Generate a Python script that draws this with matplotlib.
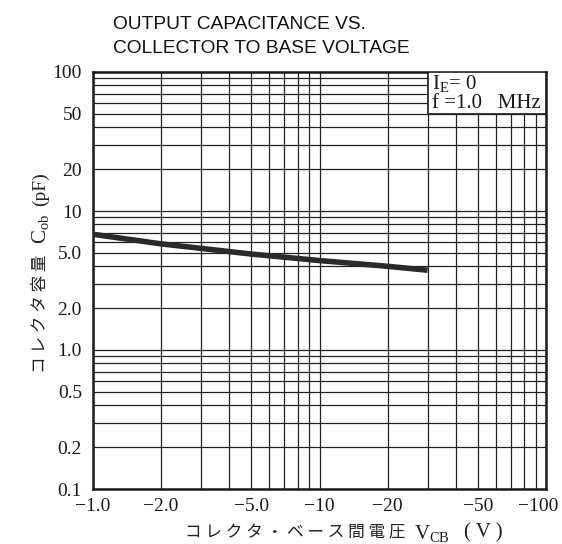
import numpy as np
import matplotlib
matplotlib.use("Agg")
import matplotlib.pyplot as plt
import matplotlib.transforms as mtransforms
from matplotlib.ticker import LogLocator, FixedLocator, FixedFormatter, NullFormatter
from matplotlib.patches import Rectangle

# data
v_cb = [-1.0, -2.0, -5.0, -10.0, -20.0, -30.0]   # V
c_ob = [6.8, 5.8, 4.9, 4.4, 4.0, 3.75]           # pF

x_ticks = [1, 2, 5, 10, 20, 50, 100]
x_labels = ["\u22121.0", "\u22122.0", "\u22125.0", "\u221210", "\u221220", "\u221250", "\u2212100"]
y_ticks = [0.1, 0.2, 0.5, 1.0, 2.0, 5.0, 10, 20, 50, 100]
y_labels = ["0.1", "0.2", "0.5", "1.0", "2.0", "5.0", "10", "20", "50", "100"]

plt.rcParams['mathtext.fontset'] = 'custom'
plt.rcParams['mathtext.rm'] = 'Liberation Serif'
plt.rcParams['mathtext.it'] = 'Liberation Serif:italic'

fig = plt.figure(figsize=(5.62, 5.44), dpi=100)
ax = fig.add_axes([93/562, 1-489/544, 453/562, 417/544])

ax.set_xscale("log")
ax.set_yscale("log")
ax.set_xlim(1, 100)
ax.set_ylim(0.1, 100)

ax.xaxis.set_major_locator(FixedLocator(x_ticks))
ax.xaxis.set_major_formatter(FixedFormatter(x_labels))
ax.yaxis.set_major_locator(FixedLocator(y_ticks))
ax.yaxis.set_major_formatter(FixedFormatter(y_labels))
ax.xaxis.set_minor_locator(LogLocator(base=10, subs=np.arange(1, 10)))
ax.yaxis.set_minor_locator(LogLocator(base=10, subs=np.arange(1, 10)))
ax.xaxis.set_minor_formatter(NullFormatter())
ax.yaxis.set_minor_formatter(NullFormatter())

ax.grid(which="both", color="#222222", lw=0.9)
ax.tick_params(which="both", length=0)
ax.tick_params(axis="x", pad=6.5)
ax.tick_params(axis="y", pad=8)
for lab in ax.get_xticklabels() + ax.get_yticklabels():
    lab.set_fontfamily("Liberation Serif")
    lab.set_fontsize(14)
    lab.set_color("#1a1a1a")
# last x label sits a bit inside the edge, as in the datasheet
last = ax.get_xticklabels()[-1]
last.set_transform(last.get_transform() +
                   mtransforms.ScaledTranslation(-8/100, 0, fig.dpi_scale_trans))
for s in ax.spines.values():
    s.set_linewidth(1.8)
    s.set_color("#1a1a1a")

ax.plot(-np.array(v_cb), c_ob, color="#2a2a2a", lw=4, solid_capstyle="butt", zorder=4)

# condition box in the upper right
ax.add_patch(Rectangle((30, 50), 70, 50, facecolor="white", edgecolor="#1a1a1a",
                       lw=1.2, zorder=3))
ax.text(31.3, 82, r"I$_{\mathrm{E}}$= 0", fontsize=15, family="Liberation Serif",
        va="center", ha="left", zorder=5, color="#1a1a1a")
ax.text(31.3, 59, "f =1.0   MHz", fontsize=15, family="Liberation Serif",
        va="center", ha="left", zorder=5, color="#1a1a1a")

fig.text(113/562, 1-29/544, "OUTPUT CAPACITANCE VS.", fontsize=13.8,
         family="Liberation Sans", ha="left", va="baseline", color="#111111")
fig.text(113/562, 1-53/544, "COLLECTOR TO BASE VOLTAGE", fontsize=13.8,
         family="Liberation Sans", ha="left", va="baseline", color="#111111")

# x axis title: japanese part, then symbol and unit in serif
fig.text(185/562, 1-533/544, "コ レ ク タ ・ ベ ー ス 間 電 圧", fontsize=12,
         family=["Noto Sans CJK JP", "DejaVu Sans"], ha="left", va="center", color="#222222")
fig.text(414/562, 1-533/544, r"V$_{\mathrm{CB}}$", fontsize=15,
         family="Liberation Serif", ha="left", va="center", color="#222222")
fig.text(464/562, 1-533/544, "( V )", fontsize=15,
         family="Liberation Serif", ha="left", va="center", color="#222222")

# y axis title, rotated
fig.text(40/562, 1-373/544, "コ レ ク タ 容 量", fontsize=12, rotation=90,
         family=["Noto Sans CJK JP", "DejaVu Sans"], ha="center", va="bottom", color="#222222")
fig.text(40/562, 1-244/544, r"C$_{\mathrm{ob}}$", fontsize=15, rotation=90,
         family="Liberation Serif", ha="center", va="bottom", color="#222222")
fig.text(40/562, 1-206/544, "(pF)", fontsize=14, rotation=90,
         family="Liberation Serif", ha="center", va="bottom", color="#222222")

fig.savefig("out.png", dpi=100, facecolor="white")
